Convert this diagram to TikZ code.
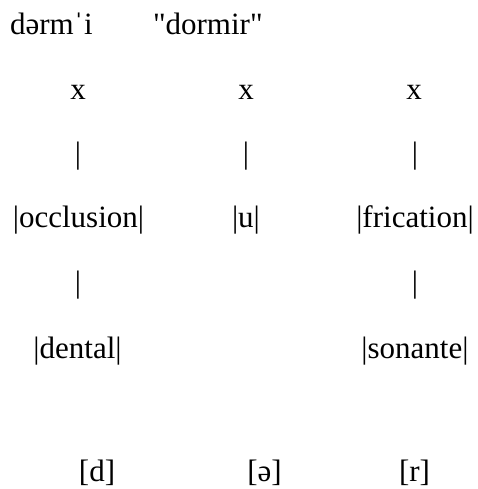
\documentclass[tikz,border=0pt]{standalone}
\usepackage{fontspec}
\setmainfont{Liberation Serif}
\newfontfamily\plainserif{Liberation Serif}
\begin{document}
\begin{tikzpicture}[x=1pt,y=-1pt,
  lbl/.style={inner sep=0pt, outer sep=0pt, anchor=base, font=\plainserif\fontsize{31}{37}\selectfont},
  lblw/.style={lbl, anchor=base west}]
\useasboundingbox[fill=white] (0,0) rectangle (478,489);
% title
\node[lblw] (ipa) at (10,35) {dərmˈi};
\node[lblw] (gloss) at (153,35) {"dormir"};
% skeleton
\node[lbl] (x1) at (78,100) {x};
\node[lbl] (x2) at (246,100) {x};
\node[lbl] (x3) at (414,100) {x};
\node[lbl] (b1) at (78,164) {|};
\node[lbl] (b2) at (246,164) {|};
\node[lbl] (b3) at (415,164) {|};
% elements
\node[lbl] (occ) at (78.5,227) {|occlusion|};
\node[lbl] (u) at (246,227) {|u|};
\node[lbl] (fric) at (415,227) {|frication|};
\node[lbl] (b4) at (78,292) {|};
\node[lbl] (b5) at (415,292) {|};
\node[lbl] (dent) at (77.5,358) {|dental|};
\node[lbl] (son) at (415,358) {|sonante|};
% output
\node[lbl] (d) at (97,481) {[d]};
\node[lbl] (schwa) at (264.5,481) {[ə]};
\node[lbl] (r) at (414.5,481) {[r]};
\end{tikzpicture}
\end{document}
